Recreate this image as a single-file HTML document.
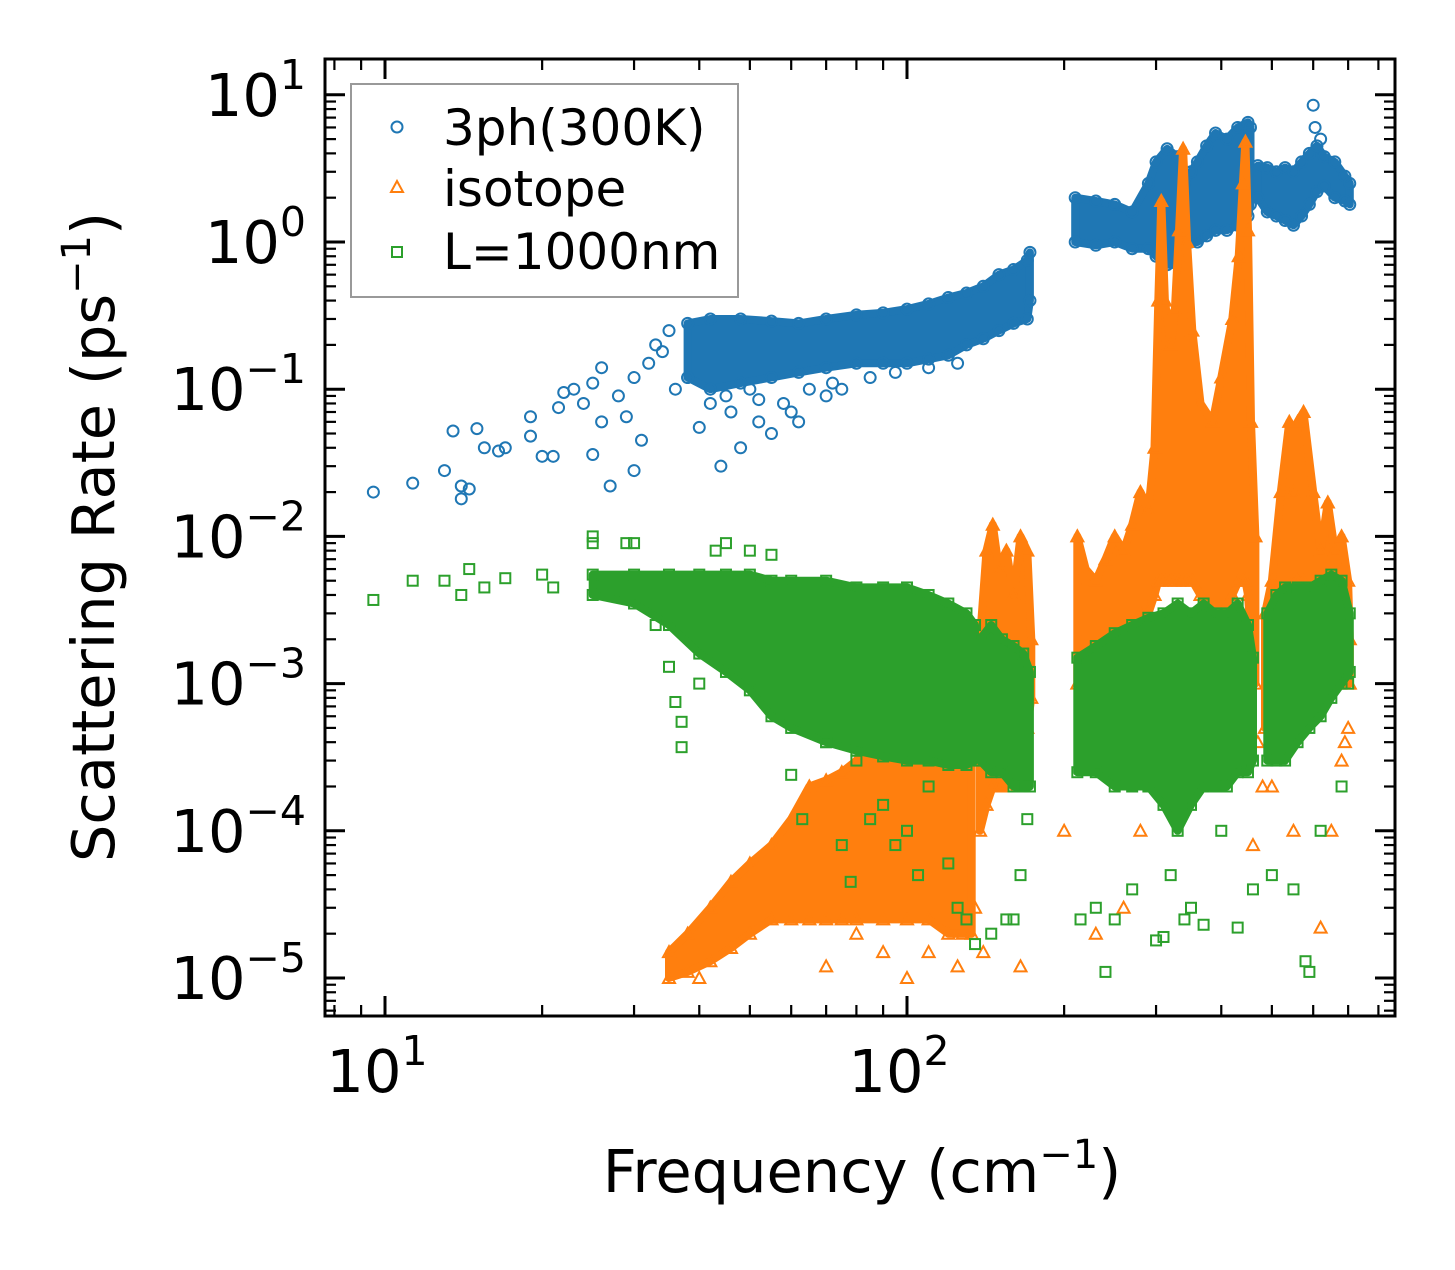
<!DOCTYPE html>
<html><head><meta charset="utf-8"><style>
body{margin:0;background:#fff}
svg text{font-family:"DejaVu Sans","Liberation Sans",sans-serif;fill:#000}
</style></head><body>
<svg id="chart" xmlns="http://www.w3.org/2000/svg" width="1455" height="1265" viewBox="0 0 1455 1265">
<rect width="1455" height="1265" fill="#fff"/>
<g id="marks"></g>
<g id="axes"></g>
<rect x="325" y="59" width="1070" height="957" fill="none" stroke="#000" stroke-width="3"/>
<text x="862" y="1192" font-size="59" text-anchor="middle">Frequency (cm<tspan font-size="40" dy="-24">−1</tspan><tspan dy="24">)</tspan></text>
<text transform="translate(114,537) rotate(-90)" font-size="59" text-anchor="middle">Scattering Rate (ps<tspan font-size="40" dy="-24">−1</tspan><tspan dy="24">)</tspan></text>
<g>
<rect x="351" y="84" width="387" height="213" fill="#fff" stroke="#999" stroke-width="2"/>
<circle cx="397" cy="127" r="5.5" fill="none" stroke="#1f77b4" stroke-width="2"/>
<text x="443" y="145" font-size="50">3ph(300K)</text>
<polygon points="397,181 403,192 391,192" fill="none" stroke="#ff7f0e" stroke-width="2"/>
<text x="443" y="206" font-size="50">isotope</text>
<rect x="392" y="247" width="10" height="10" fill="none" stroke="#2ca02c" stroke-width="2"/>
<text x="443" y="269" font-size="50">L=1000nm</text>
</g>
</svg>
<script>
// ---- data ----
const blueBandF1=[38,42,48,55,62,70,80,90,100,110,120,130,140,150,160,170,172];
const blueBandHi1=[0.28,0.3,0.3,0.29,0.28,0.3,0.32,0.33,0.35,0.38,0.42,0.45,0.5,0.6,0.65,0.75,0.85];
const blueBandLo1=[0.12,0.1,0.11,0.12,0.13,0.14,0.15,0.15,0.15,0.16,0.17,0.2,0.22,0.25,0.28,0.3,0.4];
const blueBandF2=[210,230,250,270,290,300,315,330,340,350,360,375,390,410,430,450,455];
const blueBandHi2=[2.0,1.9,1.8,1.6,2.5,3.5,4.3,3.8,2.5,3.0,3.5,4.5,5.5,5.0,6.0,6.5,6.0];
const blueBandLo2=[1.0,0.95,1.0,0.9,0.9,0.8,0.7,0.7,0.9,1.0,1.0,1.1,1.2,1.2,1.3,1.5,1.8];
const blueBandF3=[470,490,510,530,550,570,590,610,630,660,690,705];
const blueBandHi3=[3.3,3.2,3.0,3.2,3.0,3.5,4.0,4.5,3.8,3.5,2.8,2.5];
const blueBandLo3=[2.0,1.6,1.5,1.4,1.3,1.5,1.8,2.2,2.4,2.0,1.9,1.8];
const blueF=[9.5,11.3,13,13.5,14,14,14.5,15,15.5,16.5,17,19,19,20,21,21.5,22,23,24,25,25,26,26,27,28,29,30,30,31,32,33,34,35,36,38,40,42,44,46,48,50,52,55,58,60,62,70,75,600,605,620,45,52,65,72,85,95,110,125];
const blueV=[0.02,0.023,0.028,0.052,0.018,0.022,0.021,0.054,0.04,0.038,0.04,0.065,0.048,0.035,0.035,0.075,0.095,0.1,0.08,0.11,0.036,0.14,0.06,0.022,0.09,0.065,0.12,0.028,0.045,0.15,0.2,0.18,0.25,0.1,0.12,0.055,0.08,0.03,0.07,0.04,0.1,0.06,0.05,0.08,0.07,0.06,0.09,0.1,8.5,6,5,0.09,0.085,0.1,0.11,0.12,0.13,0.14,0.15];

const orBandF1=[35,38,42,46,50,55,60,65,70,75,80,90,100,110,120,128,133];
const orBandHi1=[1.5e-5,2e-5,3e-5,4.5e-5,6e-5,8e-5,1.2e-4,2e-4,2.2e-4,2.5e-4,3e-4,3.2e-4,3.5e-4,4e-4,4.5e-4,5e-4,4e-4];
const orBandLo1=[1e-5,1.1e-5,1.3e-5,1.6e-5,2e-5,2.5e-5,2.5e-5,2.5e-5,2.5e-5,2.5e-5,2.5e-5,2.5e-5,2.5e-5,2.5e-5,2e-5,2e-5,2e-5];
const orBandF2=[138,142,146,150,155,160,165,170,173];
const orBandHi2=[2e-3,8e-3,1.2e-2,6e-3,8e-3,4e-3,1e-2,8e-3,2e-3];
const orBandLo2=[1e-4,1.5e-4,2e-4,2e-4,2e-4,3e-4,3e-4,5e-4,8e-4];
const orBandF3=[212,220,230,240,250,260,270,280,290,298,303,307,312,320,326,332,338,344,352,365,385,400,420,432,440,445,450,456,465];
const orBandHi3=[1e-2,6e-3,5e-3,7e-3,1e-2,8e-3,1.2e-2,2e-2,1.5e-2,0.04,0.4,1.9,0.4,0.2,0.35,1.2,4.3,1.0,0.25,0.08,0.06,0.12,0.3,0.8,2.5,4.8,1.2,0.06,0.01];
const orBandLo3=[1e-3,1e-3,1e-3,1e-3,1.5e-3,2e-3,2e-3,3e-3,3e-3,4e-3,5e-3,5e-3,5e-3,5e-3,5e-3,5e-3,5e-3,5e-3,5e-3,4e-3,3e-3,3e-3,4e-3,5e-3,5e-3,5e-3,4e-3,2e-3,1e-3];
const orBandF4=[485,500,520,540,550,560,575,600,620,640,660,680,700,705];
const orBandHi4=[3e-3,5e-3,2e-2,6e-2,2e-2,6e-2,7e-2,2e-2,8e-3,1.7e-2,8e-3,1e-2,5e-3,2e-3];
const orBandLo4=[5e-4,1e-3,2e-3,4e-3,5e-3,5e-3,5e-3,4e-3,3e-3,3e-3,3e-3,2e-3,1e-3,1e-3];
const orF=[40,70,80,90,100,110,125,135,140,165,200,230,260,280,460,500,550,620,650,680,700,690,470,480];
const orV=[1e-5,1.2e-5,2e-5,1.5e-5,1e-5,1.5e-5,1.2e-5,3e-5,1.5e-5,1.2e-5,1e-4,2e-5,3e-5,1e-4,8e-5,2e-4,1e-4,2.2e-5,1e-4,3e-4,5e-4,4e-4,4e-4,2e-4];

const grBandF1=[25,30,35,40,45,50,55,60,70,80,90,100,110,120,130,135];
const grBandHi1=[5.5e-3,5.5e-3,5.5e-3,5.5e-3,5.5e-3,5.5e-3,5e-3,5e-3,5e-3,4.5e-3,4.5e-3,4.5e-3,4e-3,3.5e-3,3e-3,2.5e-3];
const grBandLo1=[4e-3,3.5e-3,2.5e-3,1.6e-3,1.2e-3,9e-4,6e-4,5e-4,4e-4,3.5e-4,3.2e-4,3e-4,3e-4,2.8e-4,2.8e-4,3e-4];
const grBandF2=[138,145,152,160,167,172];
const grBandHi2=[2e-3,2.5e-3,2e-3,1.8e-3,1.6e-3,1.2e-3];
const grBandLo2=[3e-4,2.5e-4,2.5e-4,2e-4,2e-4,2e-4];
const grBandF3=[212,230,250,270,290,310,330,350,370,390,410,430,450,460];
const grBandHi3=[1.5e-3,1.8e-3,2.2e-3,2.5e-3,2.8e-3,3e-3,3.5e-3,3e-3,3.5e-3,3e-3,3e-3,3.5e-3,2.5e-3,1.5e-3];
const grBandLo3=[2.5e-4,2.5e-4,2e-4,2e-4,2e-4,1.5e-4,1e-4,1.5e-4,2e-4,2e-4,2e-4,2.5e-4,2.5e-4,3e-4];
const grBandF4=[490,510,530,560,590,620,650,680,705];
const grBandHi4=[3e-3,4e-3,4.5e-3,4.5e-3,4.5e-3,5e-3,5.5e-3,5e-3,3e-3];
const grBandLo4=[3e-4,3e-4,3e-4,4e-4,5e-4,6e-4,8e-4,1e-3,1.2e-3];
const grF=[9.5,11.3,13,14,14.5,15.5,17,20,21,25,25,29,30,33,35,36,37,37,40,43,45,50,55,60,63,70,75,78,80,85,90,95,100,105,110,120,125,130,135,145,155,160,165,170,215,230,240,250,270,300,310,320,340,350,370,400,430,460,500,550,580,590,620,680,700];
const grV=[3.7e-3,5e-3,5e-3,4e-3,6e-3,4.5e-3,5.2e-3,5.5e-3,4.5e-3,1e-2,9e-3,9e-3,9e-3,2.5e-3,1.3e-3,7.5e-4,5.5e-4,3.7e-4,1e-3,8e-3,9e-3,8e-3,7.5e-3,2.4e-4,1.2e-4,4e-4,8e-5,4.5e-5,3e-4,1.2e-4,1.5e-4,8e-5,1e-4,5e-5,2e-4,6e-5,3e-5,2.5e-5,1.7e-5,2e-5,2.5e-5,2.5e-5,5e-5,1.2e-4,2.5e-5,3e-5,1.1e-5,2.5e-5,4e-5,1.8e-5,1.9e-5,5e-5,2.5e-5,3e-5,2.3e-5,1e-4,2.2e-5,4e-5,5e-5,4e-5,1.3e-5,1.1e-5,1e-4,2e-4,1e-3];

const xMajor=[10,100];
const xMajorLabels=["1","2"];
const yMajor=[1e-5,1e-4,1e-3,1e-2,1e-1,1,10];
const yMajorLabels=["−5","−4","−3","−2","−1","0","1"];

// ---- axes functions ----
const L=325,R=1395,T=59,B=1016;
function X(f){return 385+522*(Math.log10(f)-1);}
function Y(v){return 242-147.2*Math.log10(v);}
const NS="http://www.w3.org/2000/svg";
const marks=document.getElementById('marks');
const axes=document.getElementById('axes');
function mk(tag,attrs,parent){const e=document.createElementNS(NS,tag);for(const k in attrs)e.setAttribute(k,attrs[k]);parent.appendChild(e);return e;}

function band(F,H,Lo,color,name){
  let pts=F.map((f,i)=>X(f).toFixed(1)+','+Y(H[i]).toFixed(1));
  for(let i=F.length-1;i>=0;i--)pts.push(X(F[i]).toFixed(1)+','+Y(Lo[i]).toFixed(1));
  const p=mk('polygon',{points:pts.join(' '),fill:color,stroke:color,'stroke-width':8,'stroke-linejoin':'round'},marks);
  
  
}
function marker(kind,f,v,color,name){
  const x=X(f),y=Y(v);let e;
  if(kind==='c')e=mk('circle',{cx:x,cy:y,r:5.5,fill:'none',stroke:color,'stroke-width':2},marks);
  else if(kind==='t')e=mk('polygon',{points:`${x},${y-6} ${x+6},${y+5} ${x-6},${y+5}`,fill:'none',stroke:color,'stroke-width':2},marks);
  else e=mk('rect',{x:x-5,y:y-5,width:10,height:10,fill:'none',stroke:color,'stroke-width':2},marks);
  
  
}
function series(kind,color,bands,F,V,name){
  bands.forEach(b=>{
    band(b[0],b[1],b[2],color,name+'-band');
    b[0].forEach((f,i)=>{marker(kind,f,b[1][i],color,name+'-point');marker(kind,f,b[2][i],color,name+'-point');});
  });
  F.forEach((f,i)=>marker(kind,f,V[i],color,name+'-point'));
}
const C1='#1f77b4',C2='#ff7f0e',C3='#2ca02c';
series('c',C1,[[blueBandF1,blueBandHi1,blueBandLo1],[blueBandF2,blueBandHi2,blueBandLo2],[blueBandF3,blueBandHi3,blueBandLo3]],blueF,blueV,'3ph');
series('t',C2,[[orBandF1,orBandHi1,orBandLo1],[orBandF2,orBandHi2,orBandLo2],[orBandF3,orBandHi3,orBandLo3],[orBandF4,orBandHi4,orBandLo4]],orF,orV,'isotope');
series('s',C3,[[grBandF1,grBandHi1,grBandLo1],[grBandF2,grBandHi2,grBandLo2],[grBandF3,grBandHi3,grBandLo3],[grBandF4,grBandHi4,grBandLo4]],grF,grV,'boundary');

// ---- ticks ----
function tickX(f,len,w){const x=X(f);if(x<L||x>R)return;
  const a=mk('line',{x1:x,y1:B,x2:x,y2:B-len,stroke:'#000','stroke-width':w},axes);
  
  
  const b=mk('line',{x1:x,y1:T,x2:x,y2:T+len,stroke:'#000','stroke-width':w},axes);
  
  }
function tickY(v,len,w){const y=Y(v);if(y<T||y>B)return;
  const a=mk('line',{x1:L,y1:y,x2:L+len,y2:y,stroke:'#000','stroke-width':w},axes);
  
  
  const b=mk('line',{x1:R,y1:y,x2:R-len,y2:y,stroke:'#000','stroke-width':w},axes);
  
  }
for(let d=1;d<=100;d*=10)for(let m=2;m<=9;m++)tickX(m*d,11,2.2);
for(let e=-6;e<=1;e++)for(let m=2;m<=9;m++)tickY(m*Math.pow(10,e),11,2.2);
xMajor.forEach((f,i)=>{tickX(f,20,3);
  const t=mk('text',{x:X(f)-8,y:1092,'font-size':59,'text-anchor':'middle'},axes);
  
  
  t.innerHTML='10<tspan font-size="41" dy="-27">'+xMajorLabels[i]+'</tspan>';});
yMajor.forEach((v,i)=>{tickY(v,20,3);
  const t=mk('text',{x:306,y:Y(v)+21,'font-size':59,'text-anchor':'end'},axes);
  
  
  t.innerHTML='10<tspan font-size="41" dy="-27">'+yMajorLabels[i]+'</tspan>';});
</script>
</body></html>
